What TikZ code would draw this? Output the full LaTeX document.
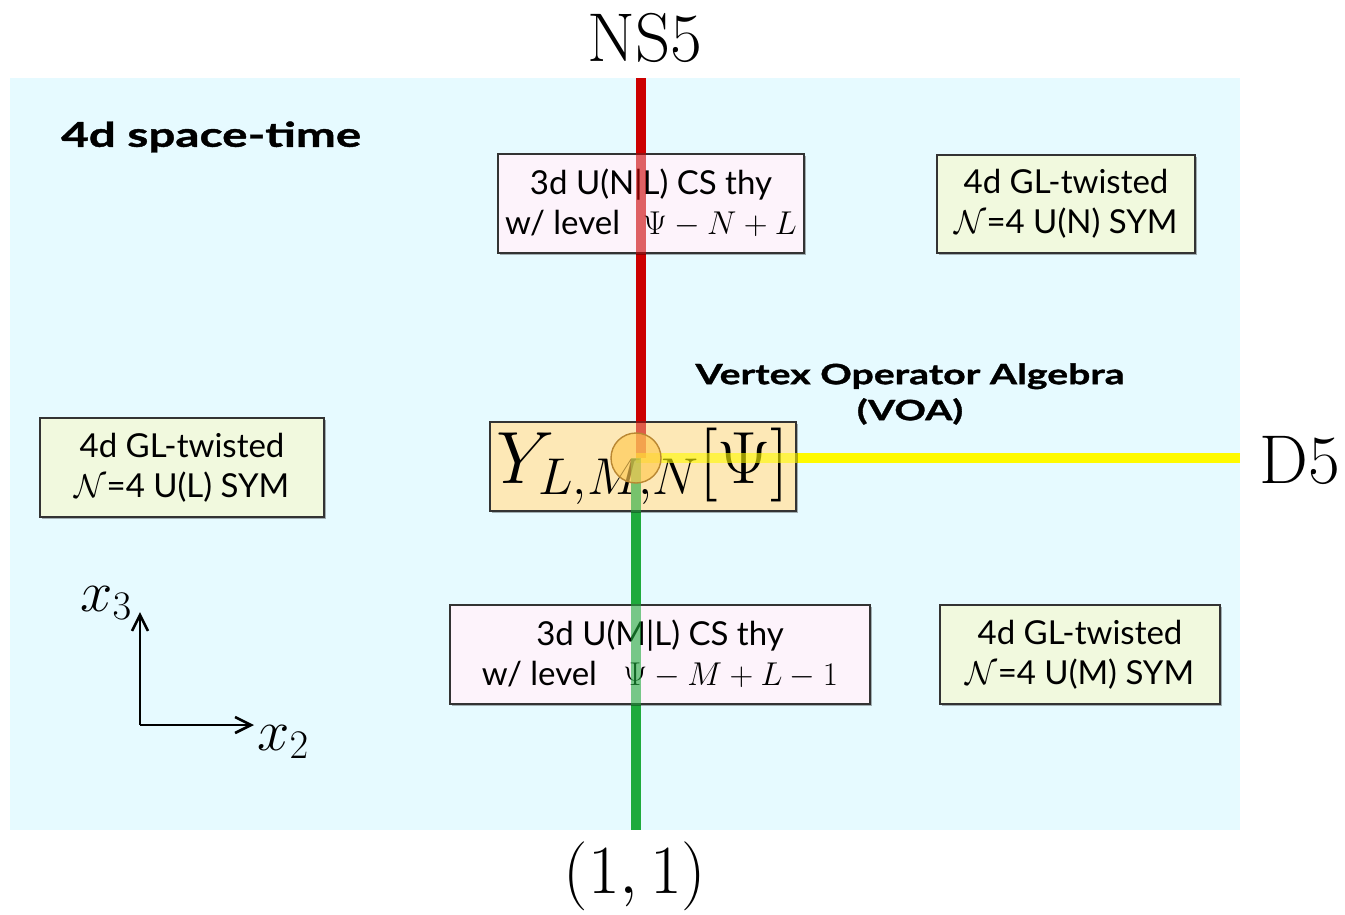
\RequirePackage{fix-cm}
\documentclass[tikz,border=0pt]{standalone}
\usepackage[no-math]{fontspec}
\setmainfont{Lato}
\newfontfamily\headfont[FakeStretch=1.4,FakeBold=1.2]{Lato}
\usetikzlibrary{arrows.meta,shadows}
\definecolor{bgcyan}{RGB}{230,250,255}
\definecolor{pinkfill}{RGB}{253,243,251}
\definecolor{greenfill}{RGB}{241,249,222}
\definecolor{orangefill}{RGB}{253,232,182}
\definecolor{nsred}{RGB}{204,0,0}
\definecolor{ppgreen}{RGB}{30,170,60}
\definecolor{dyellow}{RGB}{255,250,0}
\definecolor{vtxfill}{RGB}{255,200,80}
\definecolor{vtxdraw}{RGB}{185,135,50}
\tikzset{
  box/.style={draw=black!80, line width=1.8pt, align=center, inner sep=0pt,
    font=\fontsize{33}{40}\selectfont,
    drop shadow={shadow xshift=2pt, shadow yshift=-2pt, opacity=0.3, fill=black}},
  pinkbox/.style={box, fill=pinkfill},
  greenbox/.style={box, fill=greenfill},
  brane/.style={line width=10pt},
  overlay brane/.style={line width=10pt, opacity=0.6},
  biglabel/.style={font=\fontsize{69}{74}\selectfont, inner sep=0pt},
  axis/.style={line width=2.6pt, -{Straight Barb[length=16pt,width=16pt,line width=2.6pt]}},
  boldlabel/.style={align=center, inner sep=0pt}
}
\begin{document}
\begin{tikzpicture}[x=1pt,y=-1pt]
\useasboundingbox[fill=white] (0,0) rectangle (1345,914);
\fill[bgcyan] (10,78) rectangle (1240,830);

% labels of branes
\node[biglabel] (ns5) at (645,38) {$\mathrm{NS5}$};
\node[biglabel] (d5) at (1300,460) {$\mathrm{D5}$};
\node[biglabel] (pq) at (635,876) {$(1,1)$};

% coordinates of brane ends
\coordinate (redtop) at (641,78);
\coordinate (vtxc) at (636,458);
\coordinate (greenbot) at (636,830);
\coordinate (yellowend) at (1240,458);

% branes
\draw[brane, nsred] (redtop) -- (redtop |- vtxc);
\draw[brane, ppgreen] (vtxc) -- (greenbot);
\draw[brane, dyellow] (vtxc) -- (yellowend);

% title
\node[boldlabel, anchor=west, font=\fontsize{34}{40}\headfont\bfseries] (title) at (61,137) {4d space-time};
\node[boldlabel, font=\fontsize{28}{36}\headfont\bfseries] (voa) at (910,394) {Vertex Operator Algebra\\(VOA)};

% boxes
\node[pinkbox, minimum width=306pt, minimum height=99pt] (csN) at (651,203.5)
  {3d U(N|L) CS thy\\w/ level\hspace{0.7em}$\Psi-N+L$};
\node[greenbox, minimum width=258pt, minimum height=98pt] (symN) at (1066,204)
  {4d GL-twisted\\$\mathcal{N}$=4 U(N) SYM};
\node[greenbox, minimum width=284pt, minimum height=99pt] (symL) at (182,467.5)
  {4d GL-twisted\\$\mathcal{N}$=4 U(L) SYM};
\node[pinkbox, minimum width=420pt, minimum height=99pt] (csM) at (660,654.5)
  {3d U(M|L) CS thy\\w/ level\hspace{0.8em}$\Psi-M+L-1$};
\node[greenbox, minimum width=280pt, minimum height=99pt] (symM) at (1080,654.5)
  {4d GL-twisted\\$\mathcal{N}$=4 U(M) SYM};
\node[box, fill=orangefill, minimum width=306pt, minimum height=89pt,
  font=\fontsize{74}{78}\selectfont] (voabox) at (643,466.5) {$Y_{L,M,N}[\Psi]$};

% brane segments seen through the boxes
\draw[overlay brane, nsred] (csN.north -| redtop) -- (csN.south -| redtop);
\draw[overlay brane, nsred] (voabox.north -| redtop) -- (redtop |- vtxc);
\draw[overlay brane, dyellow] (vtxc) -- (voabox.east |- vtxc);
\draw[overlay brane, ppgreen] (vtxc) -- (voabox.south -| vtxc);
\draw[overlay brane, ppgreen] (csM.north -| greenbot) -- (csM.south -| greenbot);

% vertex
\node[circle, minimum size=50pt, inner sep=0pt, fill=vtxfill, fill opacity=0.65,
  draw=vtxdraw, line width=1.4pt] (vtx) at (vtxc) {};

% axes
\coordinate (o) at (140,725);
\coordinate (x3end) at (140,612);
\coordinate (x2end) at (254,725);
\draw[axis] (o) -- (x3end);
\draw[axis] (o) -- (x2end);
\node[font=\fontsize{58}{62}\selectfont, inner sep=0pt] (x3) at (106,603) {$x_3$};
\node[font=\fontsize{58}{62}\selectfont, inner sep=0pt] (x2) at (283,742) {$x_2$};
\end{tikzpicture}
\end{document}
